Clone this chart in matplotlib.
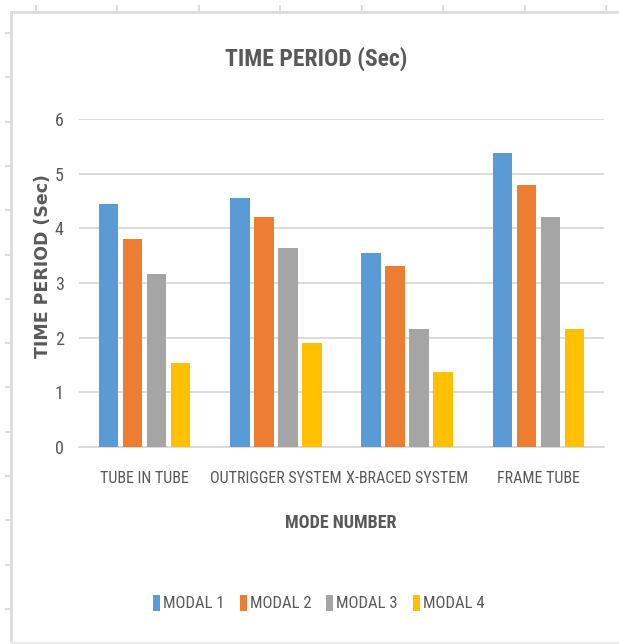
import numpy as np
import matplotlib
matplotlib.use("Agg")
import matplotlib.pyplot as plt
from matplotlib.lines import Line2D

# data
categories = ["TUBE IN TUBE", "OUTRIGGER SYSTEM", "X-BRACED SYSTEM", "FRAME TUBE"]
series_names = ["MODAL 1", "MODAL 2", "MODAL 3", "MODAL 4"]
modal_1 = [4.44, 4.56, 3.55, 5.37]
modal_2 = [3.80, 4.20, 3.31, 4.80]
modal_3 = [3.16, 3.64, 2.15, 4.20]
modal_4 = [1.54, 1.91, 1.38, 2.15]
y_ticks = [0, 1, 2, 3, 4, 5, 6]

colors = ["#5B9BD5", "#ED7D31", "#A5A5A5", "#FFC000"]
txt = "#595959"
grid = "#D9D9D9"
narrow = ["Roboto Condensed", "DejaVu Sans"]

W, H = 619, 644
fig = plt.figure(figsize=(W / 100, H / 100), dpi=100)

def px(x, y):  # pixel coords (top-left origin) -> figure fraction
    return x / W, 1 - y / H

# axes placed from the pixel positions of the gridlines
left, top = px(79, 119)
right, bottom = px(604, 447)
ax = fig.add_axes([left, bottom, right - left, top - bottom])

x = np.arange(len(categories))
width = 0.15
step = 0.183
all_series = [modal_1, modal_2, modal_3, modal_4]
for i, (vals, name) in enumerate(zip(all_series, series_names)):
    offs = (i - 1.5) * step
    ax.bar(x + offs, vals, width, color=colors[i], label=name, zorder=3)

ax.set_xlim(-0.5, len(categories) - 0.5)
ax.set_ylim(0, 6)
ax.set_yticks(y_ticks)
ax.yaxis.grid(True, color=grid, linewidth=1.3, zorder=0)
for s in ["top", "right", "left"]:
    ax.spines[s].set_visible(False)
ax.spines["bottom"].set_color(grid)
ax.spines["bottom"].set_linewidth(1.3)
ax.tick_params(axis="both", length=0, colors=txt)
ax.tick_params(axis="y", pad=11)
ax.tick_params(axis="x", pad=17)
ax.set_xticks(x)
ax.set_xticklabels(categories, family=narrow, fontsize=11.5, color=txt)
for lab in ax.get_yticklabels():
    lab.set_family(narrow)
    lab.set_fontsize(13)
    lab.set_color(txt)

# titles
fig.text(*px(316, 59), "TIME PERIOD (Sec)", family=narrow, fontsize=17,
         fontweight="bold", color=txt, ha="center", va="center")
fig.text(*px(341, 523), "MODE NUMBER", family=narrow, fontsize=13,
         fontweight="bold", color=txt, ha="center", va="center")
fig.text(*px(43, 266), "TIME PERIOD (Sec)", fontsize=12.5, fontweight="bold",
         color=txt, ha="center", va="center", rotation=90)

leg = fig.legend(loc="center", bbox_to_anchor=px(319, 603), ncol=4,
                 frameon=False, handlelength=0.4, handleheight=1.1,
                 handletextpad=0.2, columnspacing=0.9,
                 prop={"family": narrow, "size": 12})
for t in leg.get_texts():
    t.set_color(txt)

# light frame and ruler ticks of the screenshot
fc = "#DCDCDC"
fig.add_artist(Line2D([px(11, 0)[0], 1], [px(0, 12)[1]] * 2, color=fc, lw=2,
                      transform=fig.transFigure))
fig.add_artist(Line2D([px(11, 0)[0]] * 2, [px(0, 12)[1], 0], color=fc, lw=2,
                      transform=fig.transFigure))
fig.add_artist(Line2D([px(11, 0)[0], 1], [px(0, 643)[1]] * 2, color="#EEEEEE",
                      lw=1.5, transform=fig.transFigure))
for tx in np.arange(35.5, W, 81.5):
    fig.add_artist(Line2D([tx / W] * 2, [px(0, 6)[1], px(0, 12)[1]], color=fc,
                          lw=1.5, transform=fig.transFigure))
for ty in np.arange(33, H, 44.3):
    fig.add_artist(Line2D([px(6, 0)[0], px(11, 0)[0]], [px(0, ty)[1]] * 2,
                          color=fc, lw=1.5, transform=fig.transFigure))

fig.savefig("out.png", dpi=100, facecolor="white")
